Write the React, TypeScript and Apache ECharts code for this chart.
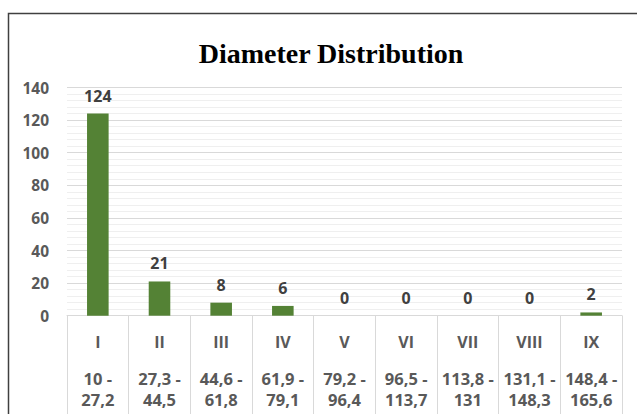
import React, { useEffect, useRef } from "react";
import * as echarts from "echarts";

const romans = ["I", "II", "III", "IV", "V", "VI", "VII", "VIII", "IX"];
const rangeStart = ["10 -", "27,3 -", "44,6 -", "61,9 -", "79,2 -", "96,5 -", "113,8 -", "131,1 -", "148,4 -"];
const rangeEnd = ["27,2", "44,5", "61,8", "79,1", "96,4", "113,7", "131", "148,3", "165,6"];
const counts = [124, 21, 8, 6, 0, 0, 0, 0, 2];
const titleText = "Diameter Distribution";

export default function App() {
  const ref = useRef<HTMLDivElement>(null);
  useEffect(() => {
    if (!ref.current) return;
    const chart = echarts.init(ref.current, null, { renderer: "svg" });
    const font = "'Open Sans', 'Noto Sans', sans-serif";
    chart.setOption({
      animation: false,
      backgroundColor: "#ffffff",
      graphic: [
        {
          type: "rect",
          shape: { x: 8.5, y: 13.5, width: 700, height: 500 },
          style: { fill: "none", stroke: "#404040", lineWidth: 1.5 },
          silent: true,
        },
        {
          type: "text",
          x: 331,
          y: 53,
          style: {
            text: titleText,
            font: "bold 28px 'Liberation Serif', 'Times New Roman', serif",
            fill: "#000000",
            textAlign: "center",
            textVerticalAlign: "middle",
          },
        },
      ],
      grid: {
        left: 67,
        right: 15,
        top: 87.5,
        bottom: 98.3,
        containLabel: false,
        outerBoundsMode: "none",
      },
      xAxis: {
        type: "category",
        data: romans,
        boundaryGap: true,
        axisLine: { show: true, lineStyle: { color: "#d9d9d9", width: 1 } },
        axisTick: {
          show: true,
          interval: 0,
          alignWithLabel: false,
          length: 110,
          lineStyle: { color: "#d9d9d9", width: 1 },
        },
        axisLabel: {
          interval: 0,
          margin: 0,
          formatter: (v: string, i: number) =>
            `{r|${v}}\n{d|${rangeStart[i]}}\n{d|${rangeEnd[i]}}`,
          rich: {
            r: {
              fontFamily: font,
              fontSize: 16,
              fontWeight: "bold",
              color: "#595959",
              lineHeight: 52,
            },
            d: {
              fontFamily: font,
              fontSize: 16.5,
              fontWeight: "bold",
              color: "#595959",
              lineHeight: 21,
            },
          },
        },
      },
      yAxis: {
        type: "value",
        min: 0,
        max: 140,
        interval: 20,
        axisLine: { show: false },
        axisTick: { show: false },
        minorTick: { show: false, splitNumber: 5 },
        minorSplitLine: { show: true, lineStyle: { color: "#efefef", width: 1 } },
        splitLine: { show: true, lineStyle: { color: "#d9d9d9", width: 1 } },
        axisLabel: {
          margin: 18,
          fontFamily: font,
          fontSize: 15.5,
          fontWeight: "bold",
          color: "#595959",
        },
      },
      series: [
        {
          type: "bar",
          data: counts,
          barWidth: "35%",
          itemStyle: { color: "#548235" },
          label: {
            show: true,
            position: "top",
            distance: 10,
            fontFamily: font,
            fontSize: 16,
            fontWeight: "bold",
            color: "#404040",
          },
        },
      ],
    });
    return () => chart.dispose();
  }, []);
  return (
    <div
      ref={ref}
      style={{ position: "absolute", left: 0, top: 0, width: 637, height: 414 }}
    />
  );
}
